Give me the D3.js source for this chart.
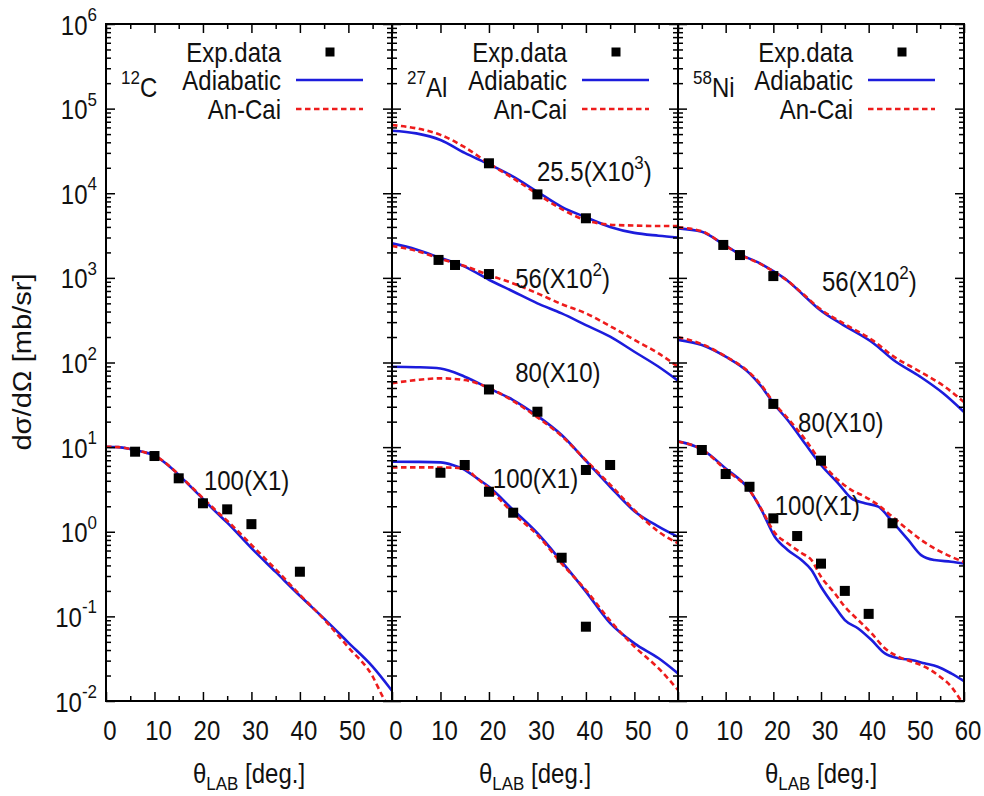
<!DOCTYPE html>
<html>
<head>
<meta charset="utf-8">
<script src="https://cdn.jsdelivr.net/npm/d3@7"></script>
<style>
  html, body { margin: 0; padding: 0; background: #fff; }
  svg { display: block; font-family: "Liberation Sans", Arial, Helvetica, sans-serif; }
</style>
</head>
<body>
<svg id="chart" width="984" height="796"></svg>
<script>
// ---------------- data: elastic cross sections dσ/dΩ (mb/sr) vs θ_LAB (deg) ----------------

// 12C, 100 MeV (x1)
const c12_100_adiTheta   = [0, 2.5, 5, 7.5, 10, 12.5, 15, 17.5, 20, 22.5, 25, 30, 35, 40, 45, 50, 55, 59];
const c12_100_adi        = [10.1, 10.0, 9.5, 8.8, 8.0, 6.3, 4.7, 3.4, 2.45, 1.75, 1.28, 0.64, 0.335, 0.175, 0.094, 0.049, 0.0255, 0.0132];
const c12_100_ancaiTheta = [0, 2.5, 5, 7.5, 10, 12.5, 15, 17.5, 20, 22.5, 25, 30, 35, 40, 45, 50, 55, 57, 59];
const c12_100_ancai      = [10.1, 10.0, 9.5, 8.8, 8.0, 6.35, 4.75, 3.45, 2.5, 1.82, 1.35, 0.70, 0.36, 0.18, 0.092, 0.043, 0.0195, 0.0115, 0.0072];
const c12_100_expTheta   = [6, 10, 15, 20, 25, 30, 40];
const c12_100_exp        = [8.83, 7.85, 4.28, 2.17, 1.84, 1.23, 0.337];

// 27Al, 25.5 MeV (x10^3)
const al_25_theta    = [0, 5, 10, 15, 20, 25, 30, 35, 40, 45, 50, 55, 59];
const al_25_adi      = [5.48e4, 5.1e4, 4.26e4, 3.0e4, 2.2e4, 1.57e4, 1.04e4, 6.9e3, 5.2e3, 4.0e3, 3.4e3, 3.15e3, 3.0e3];
const al_25_ancai    = [6.4e4, 5.85e4, 4.9e4, 3.5e4, 2.25e4, 1.5e4, 9.8e3, 6.5e3, 4.8e3, 4.25e3, 4.15e3, 4.1e3, 4.1e3];
const al_25_expTheta = [20, 30, 40];
const al_25_exp      = [2.26e4, 9.7e3, 5.06e3];

// 27Al, 56 MeV (x10^2)
const al_56_theta    = [0, 5, 10, 15, 20, 25, 30, 35, 40, 45, 50, 55, 59];
const al_56_adi      = [2560, 2170, 1720, 1360, 950, 690, 500, 380, 277, 202, 134, 89, 61];
const al_56_ancai    = [2380, 2090, 1680, 1380, 1080, 860, 656, 490, 381, 269, 185, 128, 89];
const al_56_expTheta = [9.6, 13, 20];
const al_56_exp      = [1630, 1420, 1110];

// 27Al, 80 MeV (x10)
const al_80_theta    = [0, 5, 10, 15, 20, 25, 30, 35, 40, 45, 50, 55, 59];
const al_80_adi      = [89, 88, 85, 68, 49.5, 36, 23.4, 13.9, 6.9, 3.4, 1.75, 1.15, 0.87];
const al_80_ancai    = [57, 62, 65, 62, 50, 35, 22.5, 13.5, 7.0, 3.6, 1.8, 1.0, 0.73];
const al_80_expTheta = [20, 30, 40, 45];
const al_80_exp      = [48, 26.2, 5.37, 6.15];

// 27Al, 100 MeV (x1)
const al_100_theta    = [0, 5, 10, 12.5, 15, 17.5, 20, 25, 30, 35, 40, 45, 50, 55, 59];
const al_100_adi      = [6.73, 6.7, 6.6, 6.15, 5.4, 4.3, 3.4, 1.81, 0.96, 0.443, 0.196, 0.083, 0.048, 0.032, 0.0212];
const al_100_ancai    = [5.77, 5.77, 5.75, 5.72, 5.55, 4.3, 3.26, 1.65, 0.916, 0.42, 0.204, 0.089, 0.044, 0.0243, 0.0135];
const al_100_expTheta = [10, 15, 20, 25, 35, 40];
const al_100_exp      = [4.98, 6.15, 2.97, 1.68, 0.493, 0.0755];

// 58Ni, 56 MeV (x10^2)
const ni_56_theta    = [0, 5, 9.5, 13, 17.2, 20, 22.8, 26.3, 29.8, 34.7, 41, 45.2, 50.8, 55.7, 60];
const ni_56_adi      = [3850, 3500, 2500, 1900, 1485, 1200, 944, 628, 417, 277, 169, 107, 68, 43, 26];
const ni_56_ancai    = [3950, 3550, 2500, 1880, 1470, 1190, 940, 640, 430, 290, 180, 118, 78, 53, 34];
const ni_56_expTheta = [9.5, 13, 20];
const ni_56_exp      = [2450, 1860, 1050];

// 58Ni, 80 MeV (x10)
const ni_80_theta    = [0, 5, 10, 15, 17.5, 20, 23, 26.6, 30, 33.6, 36.4, 39.2, 42, 45, 48.3, 51, 53.8, 57.3, 60];
const ni_80_adi      = [185, 161, 117, 74.5, 52, 33, 20.9, 11.1, 6.15, 3.74, 2.48, 2.17, 1.98, 1.31, 0.80, 0.53, 0.463, 0.443, 0.423];
const ni_80_ancai    = [199, 165, 118, 76, 54, 34, 22, 12.5, 6.73, 4.08, 3.11, 2.6, 2.07, 1.5, 1.05, 0.8, 0.637, 0.507, 0.44];
const ni_80_expTheta = [20, 30, 45];
const ni_80_exp      = [32.4, 6.92, 1.26];

// 58Ni, 100 MeV (x1)
const ni_100_theta    = [0, 5, 10, 15, 17.5, 20.3, 23, 25.9, 28, 30, 32.9, 35, 37.8, 40.6, 43.4, 46.2, 49, 51.7, 54.5, 57.3, 60];
const ni_100_adi      = [11.7, 9.4, 5.6, 3.11, 1.81, 0.875, 0.61, 0.463, 0.353, 0.224, 0.13, 0.0905, 0.072, 0.0525, 0.0365, 0.032, 0.0305, 0.0279, 0.0254, 0.0212, 0.0172];
const ni_100_ancai    = [11.6, 9.4, 5.4, 3.1, 1.85, 0.97, 0.73, 0.56, 0.463, 0.294, 0.187, 0.13, 0.0905, 0.063, 0.042, 0.0334, 0.0292, 0.0255, 0.0203, 0.0148, 0.0088];
const ni_100_expTheta = [5, 10, 15, 20, 25, 30, 35, 40];
const ni_100_exp      = [9.25, 4.81, 3.4, 1.44, 0.89, 0.42, 0.2, 0.107];

// axis ticks
const yExponents   = [-2, -1, 0, 1, 2, 3, 4, 5, 6];
const xTicksShort  = [0, 10, 20, 30, 40, 50];
const xTicksFull   = [0, 10, 20, 30, 40, 50, 60];

// legend entries
const legendLabels = ["Exp.data", "Adiabatic", "An-Cai"];

// ---------------- panel definitions ----------------
const panels = [
  {
    massNumber: "12", element: "C", xMax: 59, xTicks: xTicksShort,
    sets: [
      { adiTheta: c12_100_adiTheta, adi: c12_100_adi, ancaiTheta: c12_100_ancaiTheta, ancai: c12_100_ancai,
        expTheta: c12_100_expTheta, exp: c12_100_exp,
        note: [{ t: "100(X1)" }], noteAt: [20.2, 3.11] }
    ]
  },
  {
    massNumber: "27", element: "Al", xMax: 59, xTicks: xTicksShort,
    sets: [
      { adiTheta: al_25_theta, adi: al_25_adi, ancaiTheta: al_25_theta, ancai: al_25_ancai,
        expTheta: al_25_expTheta, exp: al_25_exp,
        note: [{ t: "25.5(X10" }, { t: "3", sup: true }, { t: ")" }], noteAt: [29.9, 1.40e4] },
      { adiTheta: al_56_theta, adi: al_56_adi, ancaiTheta: al_56_theta, ancai: al_56_ancai,
        expTheta: al_56_expTheta, exp: al_56_exp,
        note: [{ t: "56(X10" }, { t: "2", sup: true }, { t: ")" }], noteAt: [25.4, 759] },
      { adiTheta: al_80_theta, adi: al_80_adi, ancaiTheta: al_80_theta, ancai: al_80_ancai,
        expTheta: al_80_expTheta, exp: al_80_exp,
        note: [{ t: "80(X10)" }], noteAt: [25.4, 58.9] },
      { adiTheta: al_100_theta, adi: al_100_adi, ancaiTheta: al_100_theta, ancai: al_100_ancai,
        expTheta: al_100_expTheta, exp: al_100_exp,
        note: [{ t: "100(X1)" }], noteAt: [20.8, 3.29] }
    ]
  },
  {
    massNumber: "58", element: "Ni", xMax: 60, xTicks: xTicksFull,
    sets: [
      { adiTheta: ni_56_theta, adi: ni_56_adi, ancaiTheta: ni_56_theta, ancai: ni_56_ancai,
        expTheta: ni_56_expTheta, exp: ni_56_exp,
        note: [{ t: "56(X10" }, { t: "2", sup: true }, { t: ")" }], noteAt: [30.2, 700] },
      { adiTheta: ni_80_theta, adi: ni_80_adi, ancaiTheta: ni_80_theta, ancai: ni_80_ancai,
        expTheta: ni_80_expTheta, exp: ni_80_exp,
        note: [{ t: "80(X10)" }], noteAt: [25.2, 15.1] },
      { adiTheta: ni_100_theta, adi: ni_100_adi, ancaiTheta: ni_100_theta, ancai: ni_100_ancai,
        expTheta: ni_100_expTheta, exp: ni_100_exp,
        note: [{ t: "100(X1)" }], noteAt: [20.3, 1.58] }
    ]
  }
];

// ---------------- layout & style ----------------
const PANEL_LEFT = [106, 392, 678];
const PANEL_W = 286;
const TOP = 24, BOTTOM = 701;
const STRETCH = 1.12;          // glyphs are drawn slightly taller than wide
const FONT = 24, SMALL = 17;
const BLUE = "#1c1cdc", RED = "#ee1c1c";

const svg = d3.select("#chart");
const defs = svg.append("defs");

const y = d3.scaleLog().domain([1e-2, 1e6]).range([BOTTOM, TOP]);
const yMajor = yExponents.map(e => Math.pow(10, e));
const yMinor = [];
yExponents.slice(0, -1).forEach(e => { for (let m = 2; m <= 9; m++) yMinor.push(m * Math.pow(10, e)); });

// text with optional superscript / subscript runs
function richText(parent, x, yPos, parts, opts = {}) {
  const t = parent.append("text")
    .attr("transform", opts.transform || `translate(${x},${yPos}) scale(1,${STRETCH})`)
    .attr("text-anchor", opts.anchor || "start")
    .attr("font-size", opts.size || FONT)
    .attr("fill", "#111");
  let shift = 0;
  parts.forEach(p => {
    const target = p.sup ? -(opts.supShift || 11) : p.sub ? 6 : 0;
    const ts = t.append("tspan").attr("dy", target - shift).text(p.t);
    if (p.sup || p.sub) ts.attr("font-size", opts.smallSize || SMALL);
    shift = target;
  });
  return t;
}

function styleTicks(a) {
  a.select(".domain").remove();
  a.selectAll(".tick line").attr("stroke", "#000").attr("stroke-width", 1.5);
  a.selectAll(".tick text").remove();
}

panels.forEach((p, i) => {
  const x0 = PANEL_LEFT[i];
  const x = d3.scaleLinear().domain([0, p.xMax]).range([x0, x0 + PANEL_W]);
  const g = svg.append("g").attr("class", "panel");

  defs.append("clipPath").attr("id", "clip" + i)
    .append("rect").attr("x", x0).attr("y", TOP).attr("width", PANEL_W).attr("height", BOTTOM - TOP);

  const plot = g.append("g").attr("clip-path", `url(#clip${i})`);
  const line = d3.line().x(d => x(d[0])).y(d => y(d[1])).curve(d3.curveMonotoneX);

  // experimental points
  p.sets.forEach(s => {
    g.append("g").selectAll("rect")
      .data(d3.zip(s.expTheta, s.exp))
      .join("rect")
      .attr("x", d => x(d[0]) - 5).attr("y", d => y(d[1]) - 5)
      .attr("width", 10).attr("height", 10)
      .attr("fill", "#000");
  });

  // adiabatic (solid) and An-Cai (dashed) curves
  p.sets.forEach(s => {
    plot.append("path").datum(d3.zip(s.adiTheta, s.adi))
      .attr("d", line).attr("fill", "none")
      .attr("stroke", BLUE).attr("stroke-width", 2.6);
    plot.append("path").datum(d3.zip(s.ancaiTheta, s.ancai))
      .attr("d", line).attr("fill", "none")
      .attr("stroke", RED).attr("stroke-width", 2.6).attr("stroke-dasharray", "5.5,3.5");
  });

  // curve annotations
  p.sets.forEach(s => {
    richText(g, x(s.noteAt[0]), y(s.noteAt[1]), s.note);
  });

  // ticks: x bottom / top, y left / right (all pointing inward)
  const xMinor = d3.range(5, p.xMax, 10);
  g.append("g").attr("transform", `translate(0,${BOTTOM})`)
    .call(d3.axisBottom(x).tickValues(p.xTicks).tickSize(-9)).call(styleTicks);
  g.append("g").attr("transform", `translate(0,${BOTTOM})`)
    .call(d3.axisBottom(x).tickValues(xMinor).tickSize(-5)).call(styleTicks);
  g.append("g").attr("transform", `translate(0,${TOP})`)
    .call(d3.axisTop(x).tickValues(p.xTicks).tickSize(-9)).call(styleTicks);
  g.append("g").attr("transform", `translate(0,${TOP})`)
    .call(d3.axisTop(x).tickValues(xMinor).tickSize(-5)).call(styleTicks);

  g.append("g").attr("transform", `translate(${x0},0)`)
    .call(d3.axisLeft(y).tickValues(yMajor).tickSize(-9)).call(styleTicks);
  g.append("g").attr("transform", `translate(${x0},0)`)
    .call(d3.axisLeft(y).tickValues(yMinor).tickSize(-5)).call(styleTicks);
  g.append("g").attr("transform", `translate(${x0 + PANEL_W},0)`)
    .call(d3.axisRight(y).tickValues(yMajor).tickSize(-9)).call(styleTicks);
  g.append("g").attr("transform", `translate(${x0 + PANEL_W},0)`)
    .call(d3.axisRight(y).tickValues(yMinor).tickSize(-5)).call(styleTicks);

  // frame
  g.append("rect").attr("x", x0).attr("y", TOP).attr("width", PANEL_W).attr("height", BOTTOM - TOP)
    .attr("fill", "none").attr("stroke", "#000").attr("stroke-width", 2);

  // x tick labels (set slightly right of their ticks)
  p.xTicks.forEach(v => {
    richText(g, x(v) + 4, 740, [{ t: String(v) }], { anchor: "middle" });
  });

  // x axis title
  richText(g, x0 + PANEL_W / 2, 783,
    [{ t: "\u03B8" }, { t: "LAB", sub: true }, { t: " [deg.]" }], { anchor: "middle" });

  // nucleus label
  richText(g, x0 + 15, 97, [{ t: p.massNumber, sup: true }, { t: p.element }], { supShift: 12 });

  // legend
  const lg = g.append("g");
  const rowY = [62, 90, 119];
  legendLabels.forEach((lab, k) => {
    richText(lg, x0 + 175, rowY[k], [{ t: lab }], { anchor: "end" });
  });
  lg.append("rect").attr("x", x0 + 224 - 4.5).attr("y", rowY[0] - 10 - 4.5)
    .attr("width", 9).attr("height", 9).attr("fill", "#000");
  lg.append("line").attr("x1", x0 + 190).attr("x2", x0 + 257)
    .attr("y1", rowY[1] - 10).attr("y2", rowY[1] - 10)
    .attr("stroke", BLUE).attr("stroke-width", 2.6);
  lg.append("line").attr("x1", x0 + 190).attr("x2", x0 + 257)
    .attr("y1", rowY[2] - 10).attr("y2", rowY[2] - 10)
    .attr("stroke", RED).attr("stroke-width", 2.6).attr("stroke-dasharray", "5.5,3.5");

  // y tick labels only on the first panel
  if (i === 0) {
    yExponents.forEach((e, k) => {
      richText(g, 97, y(yMajor[k]) + 10.5, [{ t: "10" }, { t: String(e), sup: true }],
        { anchor: "end", supShift: 12 });
    });
  }
});

// y axis title (rotated, reads bottom to top)
richText(svg, 0, 0, [{ t: "d\u03C3/d\u03A9 [mb/sr]" }],
  { anchor: "middle", size: 26, transform: `translate(31,362) rotate(-90) scale(${STRETCH},1)` });
</script>
</body>
</html>
